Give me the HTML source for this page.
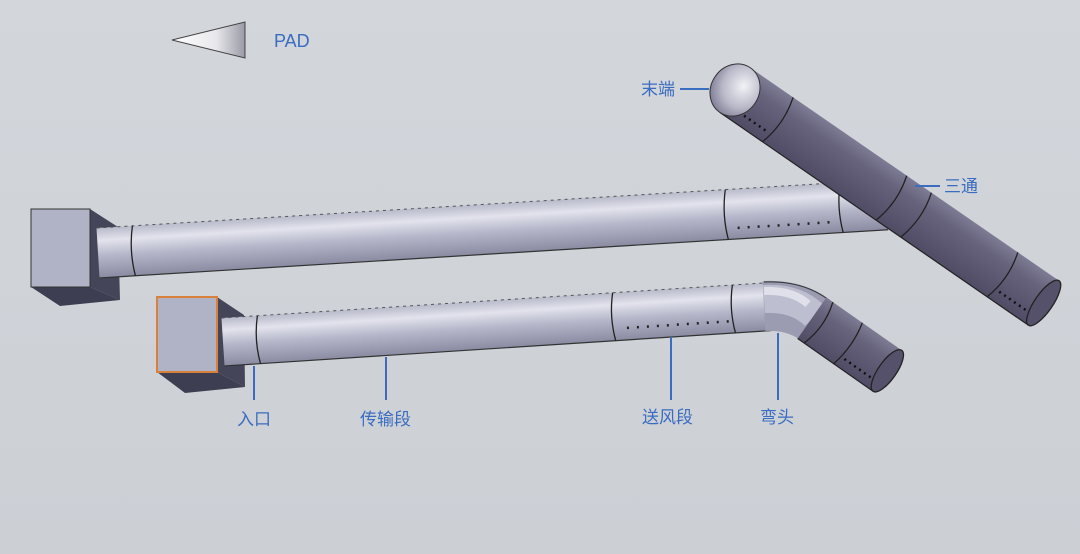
<!DOCTYPE html>
<html><head><meta charset="utf-8"><style>
html,body{margin:0;padding:0}
body{width:1080px;height:554px;overflow:hidden;background:linear-gradient(180deg,#d3d6db,#ccd0d5);font-family:"Liberation Sans","Noto Sans CJK SC",sans-serif}
svg{position:absolute;left:0;top:0}
</style></head><body>
<svg width="1080" height="554" viewBox="0 0 1080 554">
<defs>
<linearGradient id="gp" x1="0" y1="0" x2="0" y2="1">
<stop offset="0" stop-color="#b9bacb"/><stop offset="0.25" stop-color="#e2e3ec"/><stop offset="0.55" stop-color="#b6b7ca"/><stop offset="1" stop-color="#8a8ba2"/>
</linearGradient>
<linearGradient id="gd" x1="0" y1="0" x2="0" y2="1">
<stop offset="0" stop-color="#7e7b94"/><stop offset="0.3" stop-color="#67637d"/><stop offset="1" stop-color="#504c65"/>
</linearGradient>
<linearGradient id="gc" x1="0" y1="0" x2="1" y2="0">
<stop offset="0" stop-color="#fff"/><stop offset="0.6" stop-color="#e8e8ec"/><stop offset="1" stop-color="#9a9aa6"/>
</linearGradient>
<radialGradient id="gdome" cx="0.6" cy="0.35" r="0.7">
<stop offset="0" stop-color="#f2f2f6"/><stop offset="0.6" stop-color="#b8b8c8"/><stop offset="1" stop-color="#7c7a92"/>
</radialGradient>
</defs>

<polygon points="172,40 245,22 245,58" fill="url(#gc)" stroke="#444" stroke-width="1"/>
<text x="274" y="47" font-size="18" fill="#3a6cc0">PAD</text>

<polygon points="90,209 118,227 120,300 90,287" fill="#45455a"/>
<polygon points="31,287 60,306 120,300 90,287" fill="#3e3e52"/>
<rect x="31" y="209" width="59" height="78" fill="#b0b3c6" stroke="#333" stroke-width="1"/>

<g transform="translate(98,253) rotate(-3.5)">
<rect x="0" y="-25" width="790" height="50" fill="url(#gp)"/>
<line x1="0" y1="-25" x2="790" y2="-25" stroke="#555" stroke-width="1" stroke-dasharray="3,4"/>
<line x1="0" y1="25" x2="790" y2="25" stroke="#333" stroke-width="1.2"/>
<path d="M36,-25 q-5,25 0,50" stroke="#222" stroke-width="1.3" fill="none"/>
<path d="M630,-25 q-5,25 0,50" stroke="#222" stroke-width="1.3" fill="none"/>
<path d="M745,-25 q-5,25 0,50" stroke="#222" stroke-width="1.3" fill="none"/>
<line x1="640" y1="14" x2="740" y2="14" stroke="#222" stroke-width="2.5" stroke-dasharray="2,8"/>
</g>

<polygon points="217,297 244,315 245,387 217,372" fill="#45455a"/>
<polygon points="157,372 185,393 245,387 217,372" fill="#3e3e52"/>
<rect x="157" y="297" width="60" height="75" fill="#b0b3c6" stroke="#d9803a" stroke-width="2"/>

<g transform="translate(223,342) rotate(-3.7)">
<rect x="0" y="-24" width="548" height="48" fill="url(#gp)"/>
<line x1="0" y1="-24" x2="548" y2="-24" stroke="#555" stroke-width="1" stroke-dasharray="3,4"/>
<line x1="0" y1="24" x2="548" y2="24" stroke="#333" stroke-width="1.2"/>
<path d="M36,-24 q-5,24 0,48" stroke="#222" stroke-width="1.3" fill="none"/>
<path d="M392,-24 q-5,24 0,48" stroke="#222" stroke-width="1.3" fill="none"/>
<path d="M512,-24 q-5,24 0,48" stroke="#222" stroke-width="1.3" fill="none"/>
<line x1="404" y1="12" x2="506" y2="12" stroke="#222" stroke-width="2.5" stroke-dasharray="2,8"/>
</g>
<path d="M764,306 Q800,304 822,326" stroke="#9b9bb1" stroke-width="50" fill="none"/>
<path d="M764,299 Q796,297 815,316" stroke="#bdbecf" stroke-width="28" fill="none"/>
<path d="M764,291 Q792,290 808,304" stroke="#dfe0ea" stroke-width="8" fill="none"/>
<path d="M764,282 Q810,280 838,308" stroke="#333" stroke-width="1" fill="none"/>
<g transform="translate(812,318) rotate(35)">
<rect x="0" y="-25" width="92" height="50" fill="url(#gd)"/>
<line x1="0" y1="25" x2="92" y2="25" stroke="#222" stroke-width="1.2"/>
<path d="M8,-25 q8,25 0,50" stroke="#222" stroke-width="1.3" fill="none"/>
<path d="M44,-25 q6,25 0,50" stroke="#222" stroke-width="1.3" fill="none"/>
<line x1="50" y1="15" x2="90" y2="15" stroke="#111" stroke-width="2.5" stroke-dasharray="2,4"/>
<ellipse cx="92" cy="0" rx="9" ry="25" fill="#55516a" stroke="#222" stroke-width="1.3"/>
</g>

<g transform="translate(735,90) rotate(34.6)">
<rect x="0" y="-27" width="375" height="54" fill="url(#gd)"/>
<line x1="0" y1="27" x2="375" y2="27" stroke="#222" stroke-width="1.2"/>
<path d="M52,-27 q8,27 0,54" stroke="#222" stroke-width="1.3" fill="none"/>
<path d="M190,-27 q8,27 0,54" stroke="#222" stroke-width="1.3" fill="none"/>
<path d="M220,-27 q8,27 0,54" stroke="#222" stroke-width="1.3" fill="none"/>
<path d="M325,-27 q8,27 0,54" stroke="#222" stroke-width="1.3" fill="none"/>
<line x1="10" y1="16" x2="50" y2="16" stroke="#111" stroke-width="2.5" stroke-dasharray="2,4"/>
<line x1="332" y1="16" x2="372" y2="16" stroke="#111" stroke-width="2.5" stroke-dasharray="2,4"/>
<ellipse cx="375" cy="0" rx="9" ry="27" fill="#55516a" stroke="#222" stroke-width="1.3"/>
<ellipse cx="0" cy="0" rx="24" ry="27" fill="url(#gdome)" stroke="#333" stroke-width="1"/>
</g>

<g fill="#3a6cc0" font-size="17" font-family="'Liberation Sans','Noto Sans CJK SC',sans-serif">
<text x="641" y="95">末端</text>
<text x="944" y="192">三通</text>
<text x="237" y="425">入口</text>
<text x="360" y="425">传输段</text>
<text x="642" y="423">送风段</text>
<text x="760" y="423">弯头</text>
</g>
<g stroke="#3a6cc0" stroke-width="2">
<line x1="680" y1="89" x2="709" y2="89"/>
<line x1="915" y1="186" x2="940" y2="186"/>
<line x1="254" y1="366" x2="254" y2="400"/>
<line x1="386" y1="357" x2="386" y2="400"/>
<line x1="671" y1="337" x2="671" y2="400"/>
<line x1="778" y1="333" x2="778" y2="400"/>
</g>
</svg>
</body></html>
